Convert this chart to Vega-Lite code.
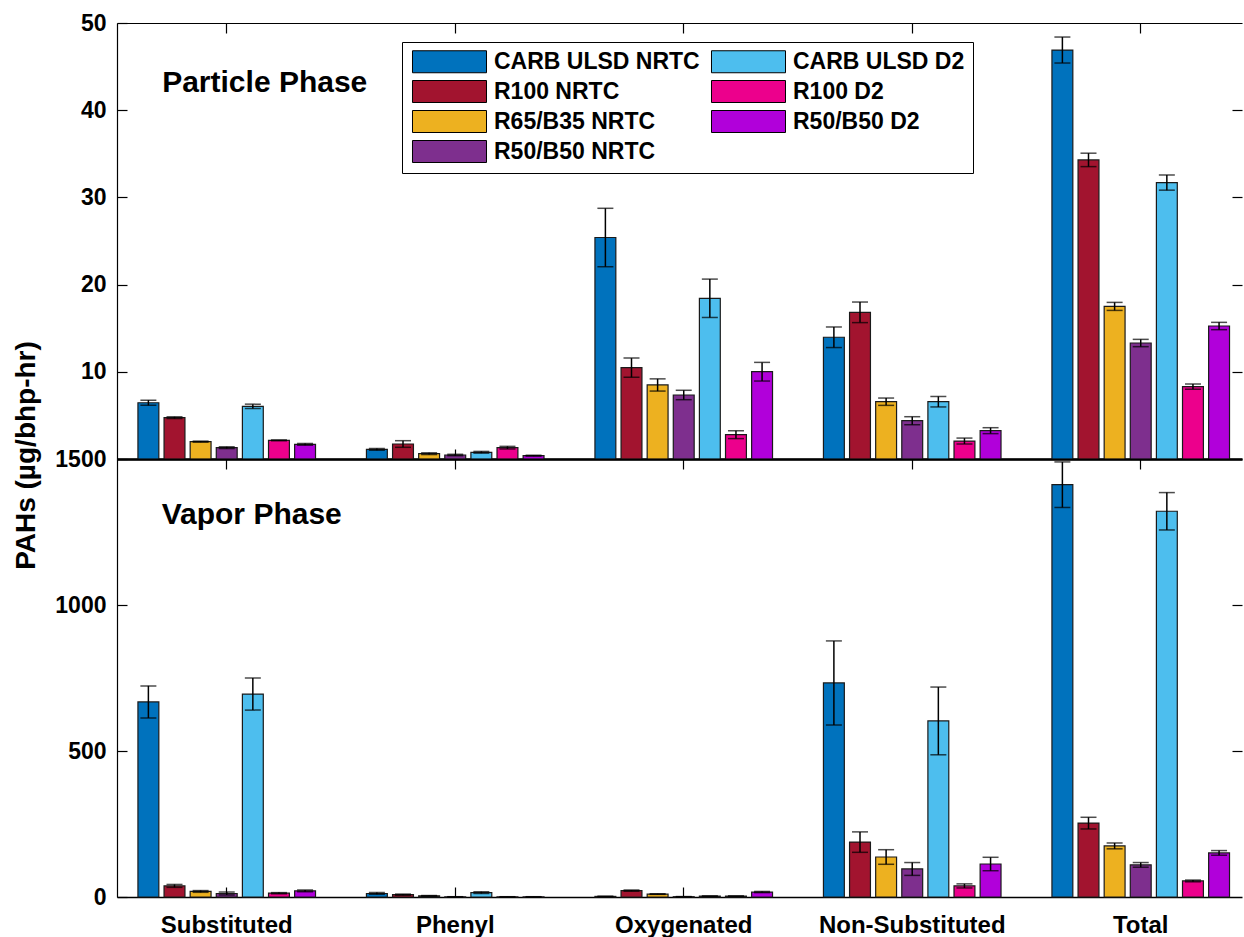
{
  "$schema": "https://vega.github.io/schema/vega-lite/v6.json",
  "background": "white",
  "padding": {"left": 12, "top": 12, "right": 0, "bottom": 0},
  "bounds": "flush",
  "spacing": 0,
  "config": {
    "font": "Liberation Sans",
    "view": {"stroke": null},
    "axis": {
      "grid": false,
      "domainColor": "#000",
      "tickColor": "#000",
      "labelColor": "#000",
      "labelFont": "Liberation Sans",
      "labelFontWeight": "bold",
      "labelFontSize": 23,
      "labelLimit": 400,
      "tickWidth": 1.2,
      "domainWidth": 1.2,
      "titleFont": "Liberation Sans",
      "titleColor": "#000"
    }
  },
  "datasets": {
    "particle": [
      {"c": "Substituted", "s": "CARB ULSD NRTC", "v": 6.45, "lo": 6.15, "hi": 6.75},
      {"c": "Substituted", "s": "R100 NRTC", "v": 4.74, "lo": 4.64, "hi": 4.84},
      {"c": "Substituted", "s": "R65/B35 NRTC", "v": 1.99, "lo": 1.93, "hi": 2.05},
      {"c": "Substituted", "s": "R50/B50 NRTC", "v": 1.3, "lo": 1.2, "hi": 1.4},
      {"c": "Substituted", "s": "CARB ULSD D2", "v": 6.04, "lo": 5.79, "hi": 6.29},
      {"c": "Substituted", "s": "R100 D2", "v": 2.14, "lo": 2.09, "hi": 2.19},
      {"c": "Substituted", "s": "R50/B50 D2", "v": 1.68, "lo": 1.58, "hi": 1.78},
      {"c": "Phenyl", "s": "CARB ULSD NRTC", "v": 1.11, "lo": 1.01, "hi": 1.21},
      {"c": "Phenyl", "s": "R100 NRTC", "v": 1.72, "lo": 1.34, "hi": 2.1},
      {"c": "Phenyl", "s": "R65/B35 NRTC", "v": 0.61, "lo": 0.51, "hi": 0.71},
      {"c": "Phenyl", "s": "R50/B50 NRTC", "v": 0.46, "lo": 0.38, "hi": 0.54},
      {"c": "Phenyl", "s": "CARB ULSD D2", "v": 0.77, "lo": 0.67, "hi": 0.87},
      {"c": "Phenyl", "s": "R100 D2", "v": 1.3, "lo": 1.15, "hi": 1.45},
      {"c": "Phenyl", "s": "R50/B50 D2", "v": 0.38, "lo": 0.33, "hi": 0.43},
      {"c": "Oxygenated", "s": "CARB ULSD NRTC", "v": 25.4, "lo": 22.05, "hi": 28.75},
      {"c": "Oxygenated", "s": "R100 NRTC", "v": 10.47, "lo": 9.37, "hi": 11.57},
      {"c": "Oxygenated", "s": "R65/B35 NRTC", "v": 8.49, "lo": 7.79, "hi": 9.19},
      {"c": "Oxygenated", "s": "R50/B50 NRTC", "v": 7.34, "lo": 6.8, "hi": 7.88},
      {"c": "Oxygenated", "s": "CARB ULSD D2", "v": 18.43, "lo": 16.23, "hi": 20.63},
      {"c": "Oxygenated", "s": "R100 D2", "v": 2.79, "lo": 2.34, "hi": 3.24},
      {"c": "Oxygenated", "s": "R50/B50 D2", "v": 10.01, "lo": 8.94, "hi": 11.08},
      {"c": "Non-Substituted", "s": "CARB ULSD NRTC", "v": 13.96, "lo": 12.78, "hi": 15.14},
      {"c": "Non-Substituted", "s": "R100 NRTC", "v": 16.82, "lo": 15.64, "hi": 18.0},
      {"c": "Non-Substituted", "s": "R65/B35 NRTC", "v": 6.57, "lo": 6.15, "hi": 6.99},
      {"c": "Non-Substituted", "s": "R50/B50 NRTC", "v": 4.39, "lo": 3.93, "hi": 4.85},
      {"c": "Non-Substituted", "s": "CARB ULSD D2", "v": 6.57, "lo": 5.97, "hi": 7.17},
      {"c": "Non-Substituted", "s": "R100 D2", "v": 2.06, "lo": 1.72, "hi": 2.4},
      {"c": "Non-Substituted", "s": "R50/B50 D2", "v": 3.25, "lo": 2.91, "hi": 3.59},
      {"c": "Total", "s": "CARB ULSD NRTC", "v": 46.9, "lo": 45.41, "hi": 48.39},
      {"c": "Total", "s": "R100 NRTC", "v": 34.3, "lo": 33.53, "hi": 35.07},
      {"c": "Total", "s": "R65/B35 NRTC", "v": 17.5, "lo": 17.04, "hi": 17.96},
      {"c": "Total", "s": "R50/B50 NRTC", "v": 13.3, "lo": 12.88, "hi": 13.72},
      {"c": "Total", "s": "CARB ULSD D2", "v": 31.7, "lo": 30.83, "hi": 32.57},
      {"c": "Total", "s": "R100 D2", "v": 8.3, "lo": 8.0, "hi": 8.6},
      {"c": "Total", "s": "R50/B50 D2", "v": 15.25, "lo": 14.83, "hi": 15.67}
    ],
    "vapor": [
      {"c": "Substituted", "s": "CARB ULSD NRTC", "v": 668, "lo": 613, "hi": 723},
      {"c": "Substituted", "s": "R100 NRTC", "v": 38, "lo": 33, "hi": 43},
      {"c": "Substituted", "s": "R65/B35 NRTC", "v": 19, "lo": 16, "hi": 22},
      {"c": "Substituted", "s": "R50/B50 NRTC", "v": 12, "lo": 7, "hi": 17},
      {"c": "Substituted", "s": "CARB ULSD D2", "v": 695, "lo": 640, "hi": 750},
      {"c": "Substituted", "s": "R100 D2", "v": 13, "lo": 11, "hi": 15},
      {"c": "Substituted", "s": "R50/B50 D2", "v": 21, "lo": 18, "hi": 24},
      {"c": "Phenyl", "s": "CARB ULSD NRTC", "v": 12, "lo": 9, "hi": 15},
      {"c": "Phenyl", "s": "R100 NRTC", "v": 8, "lo": 6, "hi": 10},
      {"c": "Phenyl", "s": "R65/B35 NRTC", "v": 4, "lo": 3, "hi": 5},
      {"c": "Phenyl", "s": "R50/B50 NRTC", "v": 0.5, "lo": 0, "hi": 1},
      {"c": "Phenyl", "s": "CARB ULSD D2", "v": 15, "lo": 12, "hi": 18},
      {"c": "Phenyl", "s": "R100 D2", "v": 0.5, "lo": 0, "hi": 1},
      {"c": "Phenyl", "s": "R50/B50 D2", "v": 0.5, "lo": 0, "hi": 1},
      {"c": "Oxygenated", "s": "CARB ULSD NRTC", "v": 2, "lo": 1.5, "hi": 2.5},
      {"c": "Oxygenated", "s": "R100 NRTC", "v": 22, "lo": 20, "hi": 24},
      {"c": "Oxygenated", "s": "R65/B35 NRTC", "v": 10, "lo": 9, "hi": 11},
      {"c": "Oxygenated", "s": "R50/B50 NRTC", "v": 1, "lo": 0.5, "hi": 1.5},
      {"c": "Oxygenated", "s": "CARB ULSD D2", "v": 3, "lo": 2.5, "hi": 3.5},
      {"c": "Oxygenated", "s": "R100 D2", "v": 3, "lo": 2.5, "hi": 3.5},
      {"c": "Oxygenated", "s": "R50/B50 D2", "v": 17, "lo": 15, "hi": 19},
      {"c": "Non-Substituted", "s": "CARB ULSD NRTC", "v": 733, "lo": 589, "hi": 877},
      {"c": "Non-Substituted", "s": "R100 NRTC", "v": 188, "lo": 153, "hi": 223},
      {"c": "Non-Substituted", "s": "R65/B35 NRTC", "v": 137, "lo": 112, "hi": 162},
      {"c": "Non-Substituted", "s": "R50/B50 NRTC", "v": 96, "lo": 74, "hi": 118},
      {"c": "Non-Substituted", "s": "CARB ULSD D2", "v": 603, "lo": 487, "hi": 719},
      {"c": "Non-Substituted", "s": "R100 D2", "v": 38, "lo": 31, "hi": 45},
      {"c": "Non-Substituted", "s": "R50/B50 D2", "v": 113, "lo": 90, "hi": 136},
      {"c": "Total", "s": "CARB ULSD NRTC", "v": 1412, "lo": 1334, "hi": 1490},
      {"c": "Total", "s": "R100 NRTC", "v": 253, "lo": 233, "hi": 273},
      {"c": "Total", "s": "R65/B35 NRTC", "v": 175, "lo": 165, "hi": 185},
      {"c": "Total", "s": "R50/B50 NRTC", "v": 110, "lo": 102, "hi": 118},
      {"c": "Total", "s": "CARB ULSD D2", "v": 1321, "lo": 1257, "hi": 1385},
      {"c": "Total", "s": "R100 D2", "v": 55, "lo": 52, "hi": 58},
      {"c": "Total", "s": "R50/B50 D2", "v": 151, "lo": 143, "hi": 159}
    ],
    "labels_top": [{"c": "Substituted", "y": 43.1, "t": "Particle Phase"}],
    "labels_bottom": [{"c": "Substituted", "y": 1308, "t": "Vapor Phase"}]
  },
  "vconcat": [
    {
      "width": 1125,
      "height": 436,
      "layer": [
        {
          "data": {"name": "particle"},
          "mark": {"type": "bar", "stroke": "#1a1a1a", "strokeWidth": 1.2},
          "encoding": {
            "x": {"field": "c", "type": "nominal",
              "scale": {"domain": ["Substituted", "Phenyl", "Oxygenated", "Non-Substituted", "Total"], "paddingInner": 0.2, "paddingOuter": 0.0617, "align": 0.65},
              "axis": {"orient": "bottom", "labels": false, "title": null, "tickSize": -10, "domainWidth": 2.5}},
            "xOffset": {"field": "s", "type": "nominal",
              "scale": {"domain": ["CARB ULSD NRTC", "R100 NRTC", "R65/B35 NRTC", "R50/B50 NRTC", "CARB ULSD D2", "R100 D2", "R50/B50 D2"], "paddingInner": 0.2, "paddingOuter": 0.1}},
            "y": {"field": "v", "type": "quantitative",
              "scale": {"domain": [0, 50], "nice": false, "zero": true},
              "axis": {"values": [10, 20, 30, 40, 50], "format": "d", "tickSize": -10, "labelPadding": 21,
                "title": "PAHs (µg/bhp-hr)", "titleFontSize": 28, "titleFontWeight": "bold",
                "titleAngle": -90, "titleX": -91, "titleY": 432, "titleBaseline": "middle", "titleAlign": "center"}},
            "color": {"field": "s", "type": "nominal",
              "scale": {"domain": ["CARB ULSD NRTC", "R100 NRTC", "R65/B35 NRTC", "R50/B50 NRTC", "CARB ULSD D2", "R100 D2", "R50/B50 D2"],
                "range": ["#0072BD", "#A2142F", "#EDB120", "#7E2F8E", "#4DBEEE", "#EC008C", "#B100DA"]},
              "legend": {"title": null, "orient": "none", "legendX": 285, "legendY": 19, "columns": 2,
                "symbolType": "M-3.364,-1H3.364V1H-3.364Z", "symbolSize": 484, "symbolOffset": 28, "symbolStrokeColor": "#000", "symbolStrokeWidth": 1, "symbolOpacity": 1,
                "labelFontSize": 23, "labelFontWeight": "bold", "labelFont": "Liberation Sans", "labelColor": "#000", "labelOffset": 33, "labelLimit": 400,
                "rowPadding": 3, "columnPadding": 9, "strokeColor": "#000", "fillColor": "#fff", "padding": 8}}
          }
        },
        {
          "data": {"name": "particle"},
          "mark": {"type": "rule", "color": "#000", "strokeWidth": 1.5},
          "encoding": {
            "x": {"field": "c", "type": "nominal", "axis": {"orient": "top", "labels": false, "title": null, "tickSize": -10, "domainWidth": 1.2}},
            "xOffset": {"field": "s", "type": "nominal"},
            "y": {"field": "lo", "type": "quantitative", "axis": {"orient": "right", "values": [10, 20, 30, 40], "labels": false, "domain": false, "title": null, "tickSize": -10}},
            "y2": {"field": "hi"}
          }
        },
        {
          "data": {"name": "particle"},
          "mark": {"type": "tick", "color": "#000", "size": 16, "thickness": 1.5},
          "encoding": {
            "x": {"field": "c", "type": "nominal", "axis": null},
            "xOffset": {"field": "s", "type": "nominal"},
            "y": {"field": "lo", "type": "quantitative", "axis": null}
          }
        },
        {
          "data": {"name": "particle"},
          "mark": {"type": "tick", "color": "#000", "size": 16, "thickness": 1.5},
          "encoding": {
            "x": {"field": "c", "type": "nominal", "axis": null},
            "xOffset": {"field": "s", "type": "nominal"},
            "y": {"field": "hi", "type": "quantitative", "axis": null}
          }
        },
        {
          "data": {"name": "labels_top"},
          "mark": {"type": "text", "fontSize": 30, "fontWeight": "bold", "color": "#000", "align": "center", "baseline": "middle", "dx": 38},
          "encoding": {
            "x": {"field": "c", "type": "nominal", "axis": null},
            "y": {"field": "y", "type": "quantitative", "axis": null},
            "text": {"field": "t"}
          }
        }
      ],
      "resolve": {"axis": {"x": "independent", "y": "independent"}}
    },
    {
      "width": 1125,
      "height": 438,
      "layer": [
        {
          "data": {"name": "vapor"},
          "mark": {"type": "bar", "stroke": "#1a1a1a", "strokeWidth": 1.2},
          "encoding": {
            "x": {"field": "c", "type": "nominal",
              "scale": {"domain": ["Substituted", "Phenyl", "Oxygenated", "Non-Substituted", "Total"], "paddingInner": 0.2, "paddingOuter": 0.0617, "align": 0.65},
              "axis": {"orient": "bottom", "title": null, "tickSize": -10, "labelPadding": 26, "labelAngle": 0, "labelFontSize": 24, "labelLimit": 400, "domainWidth": 1.5}},
            "xOffset": {"field": "s", "type": "nominal",
              "scale": {"domain": ["CARB ULSD NRTC", "R100 NRTC", "R65/B35 NRTC", "R50/B50 NRTC", "CARB ULSD D2", "R100 D2", "R50/B50 D2"], "paddingInner": 0.2, "paddingOuter": 0.1}},
            "y": {"field": "v", "type": "quantitative",
              "scale": {"domain": [0, 1500], "nice": false, "zero": true},
              "axis": {"values": [0, 500, 1000, 1500], "format": "d", "tickSize": -10, "labelPadding": 21, "title": null}},
            "color": {"field": "s", "type": "nominal",
              "scale": {"domain": ["CARB ULSD NRTC", "R100 NRTC", "R65/B35 NRTC", "R50/B50 NRTC", "CARB ULSD D2", "R100 D2", "R50/B50 D2"],
                "range": ["#0072BD", "#A2142F", "#EDB120", "#7E2F8E", "#4DBEEE", "#EC008C", "#B100DA"]},
              "legend": null}
          }
        },
        {
          "data": {"name": "vapor"},
          "mark": {"type": "rule", "color": "#000", "strokeWidth": 1.5},
          "encoding": {
            "x": {"field": "c", "type": "nominal", "axis": {"orient": "top", "labels": false, "title": null, "tickSize": -10, "domainWidth": 1.5}},
            "xOffset": {"field": "s", "type": "nominal"},
            "y": {"field": "lo", "type": "quantitative", "axis": {"orient": "right", "values": [500, 1000], "labels": false, "domain": false, "title": null, "tickSize": -10}},
            "y2": {"field": "hi"}
          }
        },
        {
          "data": {"name": "vapor"},
          "mark": {"type": "tick", "color": "#000", "size": 16, "thickness": 1.5},
          "encoding": {
            "x": {"field": "c", "type": "nominal", "axis": null},
            "xOffset": {"field": "s", "type": "nominal"},
            "y": {"field": "lo", "type": "quantitative", "axis": null}
          }
        },
        {
          "data": {"name": "vapor"},
          "mark": {"type": "tick", "color": "#000", "size": 16, "thickness": 1.5},
          "encoding": {
            "x": {"field": "c", "type": "nominal", "axis": null},
            "xOffset": {"field": "s", "type": "nominal"},
            "y": {"field": "hi", "type": "quantitative", "axis": null}
          }
        },
        {
          "data": {"name": "labels_bottom"},
          "mark": {"type": "text", "fontSize": 30, "fontWeight": "bold", "color": "#000", "align": "center", "baseline": "middle", "dx": 25},
          "encoding": {
            "x": {"field": "c", "type": "nominal", "axis": null},
            "y": {"field": "y", "type": "quantitative", "axis": null},
            "text": {"field": "t"}
          }
        }
      ],
      "resolve": {"axis": {"x": "independent", "y": "independent"}}
    }
  ],
  "resolve": {"scale": {"color": "independent", "x": "independent", "y": "independent", "xOffset": "independent"}, "legend": {"color": "independent"}}
}
